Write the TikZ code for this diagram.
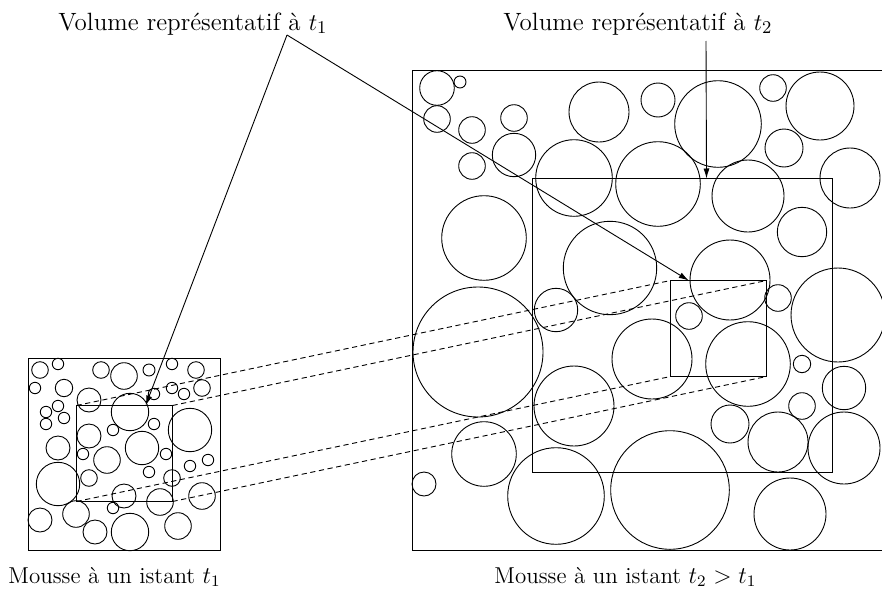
\documentclass[tikz,border=0pt]{standalone}
\usetikzlibrary{arrows.meta,calc}
\begin{document}
\begin{tikzpicture}[x=0.5pt,y=-0.5pt,
  bubble/.style={line width=0.45pt},
  box/.style={draw, line width=0.55pt, inner sep=0pt, outer sep=0pt},
  link/.style={dash pattern=on 2.6pt off 1.8pt, line width=0.45pt},
  pointer/.style={line width=0.45pt, -{Latex[length=5pt,width=3pt]}},
  lab/.style={anchor=base west, inner sep=0pt, font=\fontsize{12.5}{15}\selectfont},
  sublab/.style={anchor=base west, inner sep=0pt, font=\fontsize{11.5}{14}\selectfont}]
\clip (0,0) rectangle (882,589);
% small foam
\foreach \x/\y/\r in {40/370/8.3, 58/364/5.7, 101/370/8.3, 124/376/13.3, 149/370/6, 172/364/5.7, 196/370/8.3,
  35/388/5.7, 64/388/8.7, 89/400/12, 154/394/5.7, 172/388/5.7, 184/394/5.7, 202/388/8.3,
  46/412/5.7, 58/406/5.7, 64/418/5.7, 46/424/5.7, 130/412/18.7, 154/424/5.7, 190/430/21.7,
  89/436/12, 113/430/5.7, 58/448/12, 142/448/16.7, 83/454/5.7, 107/460/13.3, 166/454/5.7,
  208/460/5.7, 190/466/5.7, 58/484/21.7, 89/478/8.3, 149/472/5.7, 172/478/8.3, 124/496/12,
  202/496/13.3, 160/502/13.3, 113/508/5.7, 76/514/13.3, 40/520/12, 95/532/12, 130/532/18.7, 178/526/13.3}
  \draw[bubble] (\x,\y) circle [radius=\r];
% large foam
\foreach \x/\y/\r in {437/88/17.3, 460/82/6, 437/119/13.3, 472/130/13.3, 514/118/13.3, 472/166/13.3,
  514/155/21.7, 599/112/30, 658/100/17, 718/124/43.3, 773/88/13.3, 820/106/34, 784/148/19,
  850/178/30, 574/178/38.3, 658/184/42.3, 748/196/36, 802/232/24.7, 484/238/42.3, 610/268/46.7,
  730/280/40, 838/315/47, 478/352/65, 556/310/21.7, 778/298/13.3, 689/316/13.3, 652/359/40,
  748/364/42.3, 802/364/8.7, 844/388/21.7, 802/406/13.3, 574/406/40, 730/424/19, 778/442/30,
  844/448/36, 484/454/32.3, 424/484/12, 556/496/48.3, 670/490/59.3, 790/514/36}
  \draw[bubble] (\x,\y) circle [radius=\r];
% boxes
\node[box, minimum width=96pt, minimum height=96pt] (f1) at (124.5,454.5) {};
\node[box, minimum width=48pt, minimum height=48pt] (v1) at (124.5,453.5) {};
\node[box, minimum width=240pt, minimum height=240pt] (f2) at (652.5,310.5) {};
\node[box, minimum width=150pt, minimum height=147pt] (w2) at (682.5,325.5) {};
\node[box, minimum width=48pt, minimum height=48pt] (v2) at (718.5,328.5) {};
% dashed correspondences
\draw[link] (v1.north west) -- (v2.north west);
\draw[link] (v1.north east) -- (v2.north east);
\draw[link] (v1.south west) -- (v2.south west);
\draw[link] (v1.south east) -- (v2.south east);
% labels
\node[lab] (l1) at (58,30) {Volume représentatif à $t_1$};
\node[lab] (l2) at (503,30) {Volume représentatif à $t_2$};
\node[sublab] (m1) at (8,583) {Mousse à un istant $t_1$};
\node[sublab] (m2) at (494,583) {Mousse à un istant $t_2 > t_1$};
% pointers
\coordinate (a1) at (287,35);
\coordinate (a2) at (706,41);
\draw[pointer] (a1) -- ($(v1.north west)!0.72!(v1.north east)$);
\draw[pointer] (a1) -- ($(v2.north west)!0.19!(v2.north east)$);
\draw[pointer] (a2) -- ($(w2.north west)!0.58!(w2.north east)$);
\end{tikzpicture}
\end{document}
